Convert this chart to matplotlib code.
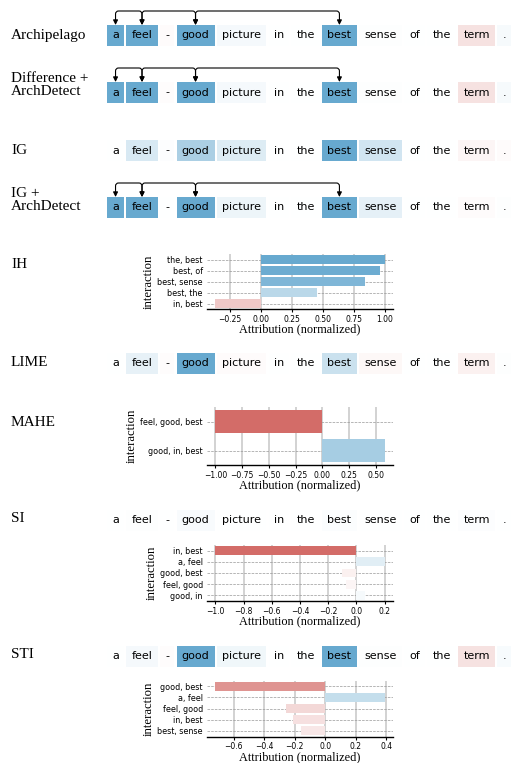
import matplotlib.pyplot as plt
import numpy as np
from matplotlib.colors import LinearSegmentedColormap, Normalize
from matplotlib.patches import Rectangle
from matplotlib.ticker import MultipleLocator

# токены предложения и атрибуции по методам
tokens = ['a', 'feel', '-', 'good', 'picture', 'in', 'the', 'best', 'sense', 'of', 'the', 'term', '.']

archipelago_vals = [1.0, 1.0, -0.03, 1.0, 0.07, 0.0, 0.0, 1.0, 0.01, 0.0, 0.0, -0.2, 0.06]
diff_arch_vals = [1.0, 1.0, -0.02, 1.0, 0.07, 0.0, 0.0, 1.0, 0.01, 0.0, 0.0, -0.2, 0.06]
ig_vals = [0.0, 0.25, 0.02, 0.55, 0.22, 0.0, 0.0, 1.0, 0.3, 0.0, 0.0, -0.07, -0.03]
ig_arch_vals = [1.0, 1.0, 0.0, 1.0, 0.12, 0.0, 0.0, 1.0, 0.17, 0.0, 0.0, -0.03, 0.01]
lime_vals = [0.0, 0.16, -0.02, 1.0, -0.03, 0.0, 0.0, 0.35, -0.05, 0.0, 0.0, -0.1, 0.01]
si_vals = [0.0, 0.01, 0.0, 0.04, 0.0, 0.0, 0.0, 0.03, 0.0, 0.0, 0.0, 0.02, 0.0]
sti_vals = [0.0, 0.07, -0.02, 1.0, 0.1, 0.0, 0.0, 1.0, 0.01, 0.0, 0.0, -0.2, 0.05]

# взаимодействия (индексы токенов), рисуются дугами
arch_links = [(0, 1), (1, 3), (3, 7)]

# барплоты взаимодействий
ih_labels = ['the, best', 'best, of', 'best, sense', 'best, the', 'in, best']
ih_values = [1.0, 0.96, 0.84, 0.45, -0.37]

mahe_labels = ['feel, good, best', 'good, in, best']
mahe_values = [-1.0, 0.58]

si_labels = ['in, best', 'a, feel', 'good, best', 'feel, good', 'good, in']
si_values = [-1.0, 0.2, -0.1, -0.07, 0.06]

sti_labels = ['good, best', 'a, feel', 'feel, good', 'in, best', 'best, sense']
sti_values = [-0.72, 0.39, -0.26, -0.21, -0.16]

cmap = LinearSegmentedColormap.from_list('attr', ['#d36c68', '#ffffff', '#67a9cf'])
norm = Normalize(-1, 1)
serif = 'Liberation Serif'

W, H = 515, 763
fig = plt.figure(figsize=(W / 100, H / 100), dpi=100)
ax0 = fig.add_axes([0, 0, 1, 1])
ax0.set_xlim(0, W)
ax0.set_ylim(H, 0)
ax0.axis('off')
renderer = fig.canvas.get_renderer()

PAD, GAP, BOX_H, X0 = 5.1, 2.4, 21, 107


def token_row(y, vals, links=None):
    x = X0
    centers = []
    for tok, v in zip(tokens, vals):
        t = ax0.text(x, y, tok, fontsize=8, ha='left', va='center', family='DejaVu Sans', zorder=3)
        w = t.get_window_extent(renderer).width
        t.set_x(x + PAD)
        ax0.add_patch(Rectangle((x, y - BOX_H / 2), w + 2 * PAD, BOX_H,
                                facecolor=cmap(norm(v)), edgecolor='none', zorder=2))
        centers.append(x + PAD + w / 2)
        x += w + 2 * PAD + GAP
    if links:
        top = y - BOX_H / 2
        for i, j in links:
            ax0.annotate('', xy=(centers[j], top), xytext=(centers[i], top),
                         arrowprops=dict(arrowstyle='<|-|>', mutation_scale=7, color='k', lw=0.8,
                                         shrinkA=0, shrinkB=0,
                                         connectionstyle='arc,angleA=90,angleB=90,armA=14,armB=14,rad=3'))


def row_label(y, text):
    ax0.text(11, y, text, fontsize=11, family=serif, ha='left', va='center', linespacing=0.95)


def bar_panel(left, top, right, bottom, labels, values, step):
    ax = fig.add_axes([left / W, 1 - bottom / H, (right - left) / W, (bottom - top) / H])
    n = len(values)
    ax.barh(np.arange(n), values, height=0.8, color=[cmap(norm(v)) for v in values], zorder=2)
    ax.set_ylim(n - 0.5, -0.5)
    ax.margins(x=0.05)
    ax.set_yticks(np.arange(n))
    ax.set_yticklabels(labels, fontsize=5.8)
    ax.xaxis.set_major_locator(MultipleLocator(step))
    ax.tick_params(axis='y', length=0, pad=3)
    ax.tick_params(axis='x', labelsize=5.5, length=2.5, width=0.8, pad=1.5)
    ax.grid(axis='x', color='#cfcfcf', lw=1.3, zorder=0)
    ax.grid(axis='y', color='#999999', ls='--', lw=0.5, zorder=0)
    for s in ['top', 'right', 'left']:
        ax.spines[s].set_visible(False)
    ax.spines['bottom'].set_linewidth(1.0)
    ax.set_axisbelow(True)
    ax.set_xlabel('Attribution (normalized)', family=serif, fontsize=8.8, labelpad=0)
    ax.set_ylabel('interaction', family=serif, fontsize=9.2, labelpad=2)
    return ax


row_label(35, 'Archipelago')
token_row(35.5, archipelago_vals, arch_links)

row_label(85, 'Difference +\nArchDetect')
token_row(92.5, diff_arch_vals, arch_links)

row_label(150, 'IG')
token_row(150.5, ig_vals)

row_label(200, 'IG +\nArchDetect')
token_row(207.5, ig_arch_vals, arch_links)

row_label(265, 'IH')
bar_panel(207, 254, 393, 309, ih_labels, ih_values, 0.25)

row_label(363, 'LIME')
token_row(363.5, lime_vals)

row_label(422, 'MAHE')
bar_panel(207, 407, 393, 465, mahe_labels, mahe_values, 0.25)

row_label(519, 'SI')
token_row(520, si_vals)
bar_panel(207, 545, 393, 601, si_labels, si_values, 0.2)

row_label(655, 'STI')
token_row(656, sti_vals)
bar_panel(207, 680.5, 393, 736.5, sti_labels, sti_values, 0.2)

plt.savefig('out.png', dpi=100)
plt.close()
